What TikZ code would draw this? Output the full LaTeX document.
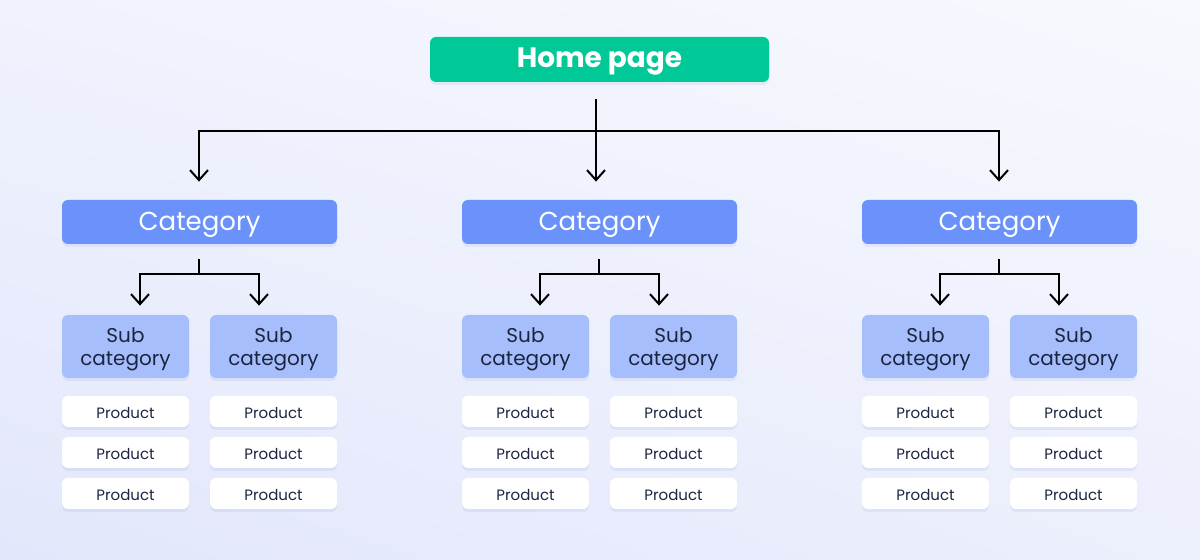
\documentclass[tikz,border=0pt]{standalone}
\usepackage{fontspec}
\setmainfont{Poppins}
\usepackage{tikz}
\usetikzlibrary{arrows.meta,shadows,shadings}

\definecolor{homegreen}{RGB}{0,200,150}
\definecolor{catblue}{RGB}{106,146,250}
\definecolor{subblue}{RGB}{166,191,252}
\definecolor{inkdark}{RGB}{28,36,64}
\definecolor{shadowblue}{RGB}{120,140,220}
\definecolor{bgtl}{RGB}{240,242,253}
\definecolor{bgtr}{RGB}{248,249,254}
\definecolor{bgbl}{RGB}{226,231,251}
\definecolor{bgbr}{RGB}{236,239,252}

\tikzset{
  box/.style={rounded corners=3pt, inner sep=0pt, align=center,
    drop shadow={shadow xshift=0pt, shadow yshift=-1.5pt, fill=shadowblue, opacity=0.12}},
  homebox/.style={box, fill=homegreen, text=white, minimum width=169.5pt, minimum height=22.5pt,
    text height=0.72em+1pt, text depth=0pt, font=\fontsize{14}{16}\selectfont\bfseries},
  catbox/.style={box, fill=catblue, text=white, minimum width=137.5pt, minimum height=22pt,
    text height=0.72em+1.5pt, text depth=0pt, font=\fontsize{13}{14}\selectfont},
  subbox/.style={box, fill=subblue, text=inkdark, minimum width=63.5pt, minimum height=31.5pt,
    text depth=0pt, font=\fontsize{10}{11.2}\selectfont},
  prodbox/.style={box, fill=white, text=inkdark, minimum width=63.5pt, minimum height=15.5pt,
    text height=0.72em, text depth=0pt, font=\fontsize{7.5}{8}\selectfont},
  link/.style={draw=black, line width=1pt},
  arrowlink/.style={link, -{Straight Barb[length=5pt,width=9pt,line width=1pt]}},
}

\begin{document}
\begin{tikzpicture}[x=0.5pt,y=0.5pt,yscale=-1,xscale=1]
% Background
\useasboundingbox (0,0) rectangle (1200,560);
\shade[upper left=bgtl, upper right=bgtr, lower left=bgbl, lower right=bgbr] (0,0) rectangle (1200,560);

% Text Node
\node [homebox] (home) at (599.5,59.5) {Home page};
% Text Node
\node [catbox] (cat1) at (199.5,222) {Category};
% Text Node
\node [catbox] (cat2) at (599.5,222) {Category};
% Text Node
\node [catbox] (cat3) at (999.5,222) {Category};

% Text Node
\node [subbox] (sub11) at (125.5,346.5) {Sub\\category};
% Text Node
\node [subbox] (sub12) at (273.5,346.5) {Sub\\category};
% Text Node
\node [subbox] (sub21) at (525.5,346.5) {Sub\\category};
% Text Node
\node [subbox] (sub22) at (673.5,346.5) {Sub\\category};
% Text Node
\node [subbox] (sub31) at (925.5,346.5) {Sub\\category};
% Text Node
\node [subbox] (sub32) at (1073.5,346.5) {Sub\\category};

% Text Node
\node [prodbox] (p11a) at (125.5,411.5) {Product};
\node [prodbox] (p11b) at (125.5,452.5) {Product};
\node [prodbox] (p11c) at (125.5,493.5) {Product};
% Text Node
\node [prodbox] (p12a) at (273.5,411.5) {Product};
\node [prodbox] (p12b) at (273.5,452.5) {Product};
\node [prodbox] (p12c) at (273.5,493.5) {Product};
% Text Node
\node [prodbox] (p21a) at (525.5,411.5) {Product};
\node [prodbox] (p21b) at (525.5,452.5) {Product};
\node [prodbox] (p21c) at (525.5,493.5) {Product};
% Text Node
\node [prodbox] (p22a) at (673.5,411.5) {Product};
\node [prodbox] (p22b) at (673.5,452.5) {Product};
\node [prodbox] (p22c) at (673.5,493.5) {Product};
% Text Node
\node [prodbox] (p31a) at (925.5,411.5) {Product};
\node [prodbox] (p31b) at (925.5,452.5) {Product};
\node [prodbox] (p31c) at (925.5,493.5) {Product};
% Text Node
\node [prodbox] (p32a) at (1073.5,411.5) {Product};
\node [prodbox] (p32b) at (1073.5,452.5) {Product};
\node [prodbox] (p32c) at (1073.5,493.5) {Product};

% Bus points
\coordinate (homebus) at (596,131);
\coordinate (cat1bus) at (199,274);
\coordinate (cat2bus) at (599,274);
\coordinate (cat3bus) at (999,274);

% Connection
\draw [link, shorten <=8.5pt] (home.south -| homebus) -- (homebus);
% Connection
\draw [arrowlink, shorten >=9pt] (homebus) -| (cat1.north -| cat1bus);
% Connection
\draw [arrowlink, shorten >=9pt] (homebus) -- (cat2.north -| homebus);
% Connection
\draw [arrowlink, shorten >=9pt] (homebus) -| (cat3.north -| cat3bus);

% Connection
\draw [link, shorten <=7.5pt] (cat1.south -| cat1bus) -- (cat1bus);
\draw [arrowlink, shorten >=4.5pt] (cat1bus) -| ([xshift=7.25pt]sub11.north);
\draw [arrowlink, shorten >=4.5pt] (cat1bus) -| ([xshift=-7.25pt]sub12.north);
% Connection
\draw [link, shorten <=7.5pt] (cat2.south -| cat2bus) -- (cat2bus);
\draw [arrowlink, shorten >=4.5pt] (cat2bus) -| ([xshift=7.25pt]sub21.north);
\draw [arrowlink, shorten >=4.5pt] (cat2bus) -| ([xshift=-7.25pt]sub22.north);
% Connection
\draw [link, shorten <=7.5pt] (cat3.south -| cat3bus) -- (cat3bus);
\draw [arrowlink, shorten >=4.5pt] (cat3bus) -| ([xshift=7.25pt]sub31.north);
\draw [arrowlink, shorten >=4.5pt] (cat3bus) -| ([xshift=-7.25pt]sub32.north);

\end{tikzpicture}
\end{document}
